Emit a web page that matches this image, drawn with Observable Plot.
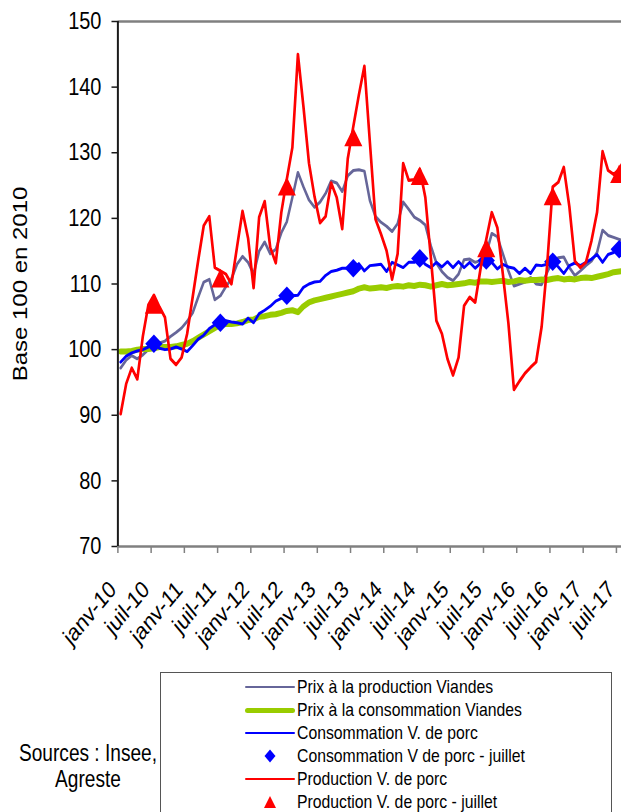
<!DOCTYPE html>
<html>
<head>
<meta charset="utf-8">
<script src="https://cdn.jsdelivr.net/npm/d3@7"></script>
<script src="https://cdn.jsdelivr.net/npm/@observablehq/plot@0.6"></script>
<style>
  html, body { margin: 0; padding: 0; background: #fff; }
  #wrap { position: relative; width: 621px; height: 812px; overflow: hidden;
          font-family: "Liberation Sans", Arial, sans-serif; color: #000; }
  #chart { position: absolute; left: 0; top: 0; }
  .lg-box { position: absolute; left: 160px; top: 672px; width: 452px; height: 200px;
            border: 1.5px solid #555; box-sizing: border-box; }
  .lg-text { position: absolute; left: 297px; font-size: 19px; line-height: 20px; height: 20px;
             white-space: nowrap; transform: scaleX(0.83); transform-origin: left center; }
  .lg-line { position: absolute; left: 245px; width: 50px; }
  .lg-mark { position: absolute; left: 262px; }
  .sources { position: absolute; left: 0; top: 740px; width: 176px; text-align: center;
             font-size: 23px; line-height: 26px; transform: scaleX(0.83); transform-origin: center; }
</style>
</head>
<body>
<div id="wrap"></div>
<script>
// ---------- DATA (index 0 = janv-10, one value per month) ----------
const tickLabels = ["janv-10","juil-10","janv-11","juil-11","janv-12","juil-12","janv-13","juil-13",
                    "janv-14","juil-14","janv-15","juil-15","janv-16","juil-16","janv-17","juil-17"];
const yTicks = [70, 80, 90, 100, 110, 120, 130, 140, 150];

// Prix à la production Viandes
const prixProdViandes = [
  97.2, 98.4, 99.1, 98.6, 99.2, 100.0, 100.5, 101.0, 101.3, 102.0, 102.6, 103.3,
  104.3, 105.6, 108.0, 110.3, 110.7, 107.6, 108.2, 109.6, 110.8, 113.0, 114.2, 113.3,
  111.5, 115.0, 116.4, 114.6, 115.3, 117.8, 119.5, 123.2, 127.0, 124.8, 122.8, 121.7,
  122.5, 123.8, 125.7, 125.4, 124.1, 126.5, 127.3, 127.4, 127.2, 122.7, 120.3, 119.4,
  118.8, 118.0, 119.2, 122.5, 121.4, 120.2, 119.7, 119.0, 115.8, 113.2, 111.9, 111.0,
  110.5, 111.5, 113.7, 113.8, 113.3, 113.6, 114.6, 117.7, 117.2, 114.6, 112.0, 109.7,
  110.0, 110.3, 111.0, 110.0, 109.9, 111.8, 113.5, 114.0, 114.1, 112.5, 111.3, 112.0,
  112.8, 113.5, 114.8, 118.2, 117.4, 117.1, 116.8, 116.5
];
// Prix à la consommation Viandes
const prixConsoViandes = [
  99.7, 99.7, 99.8, 100.0, 100.1, 100.1, 100.2, 100.4, 100.4, 100.4, 100.5, 100.7,
  100.9, 101.3, 101.8, 102.3, 102.8, 103.3, 103.8, 103.9, 103.9, 104.0, 104.2, 104.5,
  104.6, 105.0, 105.1, 105.3, 105.4, 105.6, 105.9, 106.0, 105.7, 106.6, 107.2, 107.5,
  107.7, 107.9, 108.1, 108.3, 108.5, 108.7, 108.9, 109.3, 109.5, 109.3, 109.4, 109.5,
  109.4, 109.6, 109.7, 109.6, 109.8, 109.7, 109.9, 109.8, 109.6, 109.8, 110.0, 109.8,
  109.9, 110.0, 110.1, 110.3, 110.2, 110.4, 110.4, 110.3, 110.4, 110.5, 110.3, 110.4,
  110.6, 110.5, 110.6, 110.6, 110.7, 110.6, 110.8, 110.9, 110.7, 110.8, 110.7, 110.9,
  111.0, 110.9, 111.1, 111.3, 111.5, 111.8, 111.9, 112.0
];
// Consommation V. de porc
const consoPorc = [
  98.1, 99.0, 99.5, 99.8, 100.0, 100.4, 100.9, 100.2, 100.0, 100.1, 100.4, 100.1,
  99.7, 100.6, 101.6, 102.2, 103.2, 103.8, 104.1, 104.4, 104.2, 104.1, 103.9, 104.8,
  104.1, 105.5, 106.0, 106.6, 107.4, 107.8, 108.2, 108.2, 108.3, 109.5, 110.0, 110.3,
  110.4, 111.3, 111.9, 112.1, 112.4, 112.4, 112.4, 113.1, 112.0, 112.8, 112.9, 113.0,
  111.9, 113.3, 112.9, 112.5, 113.3, 113.3, 113.9, 113.0, 112.5, 113.3, 112.6, 113.4,
  112.5, 113.4, 112.5, 113.3, 112.4, 113.2, 113.6, 113.3, 112.3, 113.0, 112.6, 112.4,
  111.6, 112.4, 111.6, 112.9, 112.8, 113.0, 113.4, 112.6, 111.6, 112.8, 113.2, 112.8,
  113.3, 113.8, 114.5, 113.3, 114.5, 114.8, 115.3, 115.5
];
// Production V. de porc
const prodPorc = [
  90.2, 94.8, 97.2, 95.5, 102.0, 106.8, 108.3, 106.5, 104.9, 98.6, 97.7, 98.8,
  102.4, 108.0, 113.6, 118.9, 120.3, 112.5, 112.0, 111.5, 110.0, 115.6, 121.1, 117.0,
  109.4, 120.2, 122.6, 115.6, 113.2, 120.9, 126.0, 130.8, 145.0, 137.0, 128.4, 123.3,
  119.3, 120.3, 125.4, 123.2, 118.4, 129.1, 134.0, 138.8, 143.2, 131.5, 119.9, 117.6,
  115.1, 110.7, 114.6, 128.4, 125.8, 125.9, 127.5, 123.2, 114.0, 104.4, 102.4, 98.6,
  96.1, 98.8, 106.7, 108.0, 107.2, 112.5, 116.8, 120.9, 118.6, 111.5, 104.0, 93.9,
  95.2, 96.4, 97.3, 98.1, 103.5, 113.0, 124.8, 125.5, 127.8, 121.8, 113.5, 112.5,
  113.3, 116.6, 120.9, 130.2, 127.3, 126.7, 127.5, 129.0
];
// Valeurs de juillet (2010 … 2017)
const julyMonths = [6, 18, 30, 42, 54, 66, 78, 90];
const consoPorcJuillet = [100.9, 104.1, 108.2, 112.4, 113.9, 113.6, 113.4, 115.3];
const prodPorcJuillet  = [106.9, 110.9, 124.9, 132.4, 126.5, 115.5, 123.4, 126.8];

// ---------- CHART ----------
const DISPLAY_W = 621, W = 748, H = 660;       // drawn wide, shown horizontally compressed
const months = d3.range(prodPorc.length);
const tickPos = tickLabels.map((_, k) => k * 6 - 0.5);
const julyRows = julyMonths.map((m, j) => ({m, conso: consoPorcJuillet[j], prod: prodPorcJuillet[j]}));

const diamondSym = { draw(ctx, size) { const r = Math.sqrt(size / Math.PI), w = r * 1.12;
  ctx.moveTo(0, -r); ctx.lineTo(w, 0); ctx.lineTo(0, r); ctx.lineTo(-w, 0); ctx.closePath(); } };
const triangleSym = { draw(ctx, size) { const r = Math.sqrt(size / Math.PI), w = r * 1.17;
  ctx.moveTo(0, -r); ctx.lineTo(w, r); ctx.lineTo(-w, r); ctx.closePath(); } };

const lineOpts = {x: i => i, clip: true, strokeLinejoin: "round", strokeLinecap: "round"};

const svg = Plot.plot({
  width: W, height: H,
  marginLeft: 141.5, marginRight: 0, marginTop: 21, marginBottom: 114,
  x: {domain: [-0.5, 90.4]},
  y: {domain: [70, 150]},
  style: {background: "white", fontFamily: "'Liberation Sans', Arial, sans-serif", color: "#000", overflow: "visible"},
  marks: [
    Plot.ruleY([150], {stroke: "#808080", strokeWidth: 2.4}),
    Plot.line(months, {...lineOpts, y: i => prixProdViandes[i], stroke: "#666699", strokeWidth: 3}),
    Plot.line(months, {...lineOpts, y: i => prixConsoViandes[i], stroke: "#99CC00", strokeWidth: 6}),
    Plot.line(months, {...lineOpts, y: i => consoPorc[i], stroke: "#0000FF", strokeWidth: 3}),
    Plot.dot(julyRows, {x: "m", y: "conso", symbol: diamondSym, r: 9.3, fill: "#0000FF", stroke: "none"}),
    Plot.line(months, {...lineOpts, y: i => prodPorc[i], stroke: "#FF0000", strokeWidth: 3.2}),
    Plot.dot(julyRows, {x: "m", y: "prod", symbol: triangleSym, r: 9.3, fill: "#FF0000", stroke: "none"}),
    Plot.ruleY([70], {stroke: "#808080", strokeWidth: 2.4}),
    Plot.ruleX([-0.5], {stroke: "#1a1a1a", strokeWidth: 2.4}),
    Plot.axisY({anchor: "left", ticks: yTicks, tickSize: 7.2, tickPadding: 12.6, fontSize: 24,
                stroke: "#1a1a1a", strokeWidth: 1.5, fill: "#000", label: null}),
    Plot.axisX({anchor: "bottom", ticks: tickPos, tickSize: 7, stroke: "#808080", strokeWidth: 1.8,
                fill: "none", label: null}),
    Plot.axisX({anchor: "bottom", ticks: tickPos, tickFormat: (d, k) => tickLabels[k],
                tickRotate: -45, tickSize: 7, tickPadding: 32, dx: -6, fontSize: 24,
                stroke: "none", fill: "#000", label: null}),
    Plot.text(["Base 100 en 2010"], {frameAnchor: "left", dx: 24 - 141.5, rotate: -90,
                fontSize: 24, textAnchor: "middle", lineAnchor: "middle", fill: "#000"})
  ]
});
svg.id = "chart";
svg.setAttribute("viewBox", `0 0 ${W} ${H}`);
svg.setAttribute("preserveAspectRatio", "none");
svg.setAttribute("width", DISPLAY_W);
svg.setAttribute("height", H);
svg.style.width = DISPLAY_W + "px";
svg.style.height = H + "px";
svg.style.maxWidth = "none";

const wrap = document.getElementById("wrap");
wrap.appendChild(svg);

// ---------- LEGEND ----------
const legendItems = [
  {label: "Prix à la production Viandes", kind: "line", color: "#666699", w: 2.5},
  {label: "Prix à la consommation Viandes", kind: "line", color: "#99CC00", w: 5},
  {label: "Consommation V. de porc", kind: "line", color: "#0000FF", w: 2.5},
  {label: "Consommation V de porc - juillet", kind: "diamond", color: "#0000FF"},
  {label: "Production V. de porc", kind: "line", color: "#FF0000", w: 2.5},
  {label: "Production V. de porc - juillet", kind: "triangle", color: "#FF0000"}
];
const box = document.createElement("div");
box.className = "lg-box";
wrap.appendChild(box);
legendItems.forEach((it, j) => {
  const cy = 687 + 23 * j;
  if (it.kind === "line") {
    const l = document.createElement("div");
    l.className = "lg-line";
    l.style.top = (cy - it.w / 2) + "px";
    l.style.height = it.w + "px";
    l.style.background = it.color;
    l.style.borderRadius = (it.w / 2) + "px";
    wrap.appendChild(l);
  } else {
    const ns = "http://www.w3.org/2000/svg";
    const s = document.createElementNS(ns, "svg");
    s.setAttribute("width", 16); s.setAttribute("height", 16);
    s.setAttribute("class", "lg-mark");
    s.style.top = (cy - 8) + "px";
    const p = document.createElementNS(ns, "path");
    p.setAttribute("d", it.kind === "diamond" ? "M8,1.5 L13.5,8 L8,14.5 L2.5,8 Z" : "M8,2 L14,14 L2,14 Z");
    p.setAttribute("fill", it.color);
    s.appendChild(p);
    wrap.appendChild(s);
  }
  const t = document.createElement("div");
  t.className = "lg-text";
  t.style.top = (cy - 10) + "px";
  t.textContent = it.label;
  wrap.appendChild(t);
});
const src = document.createElement("div");
src.className = "sources";
src.innerHTML = "Sources : Insee,<br>Agreste";
wrap.appendChild(src);
</script>
</body>
</html>
